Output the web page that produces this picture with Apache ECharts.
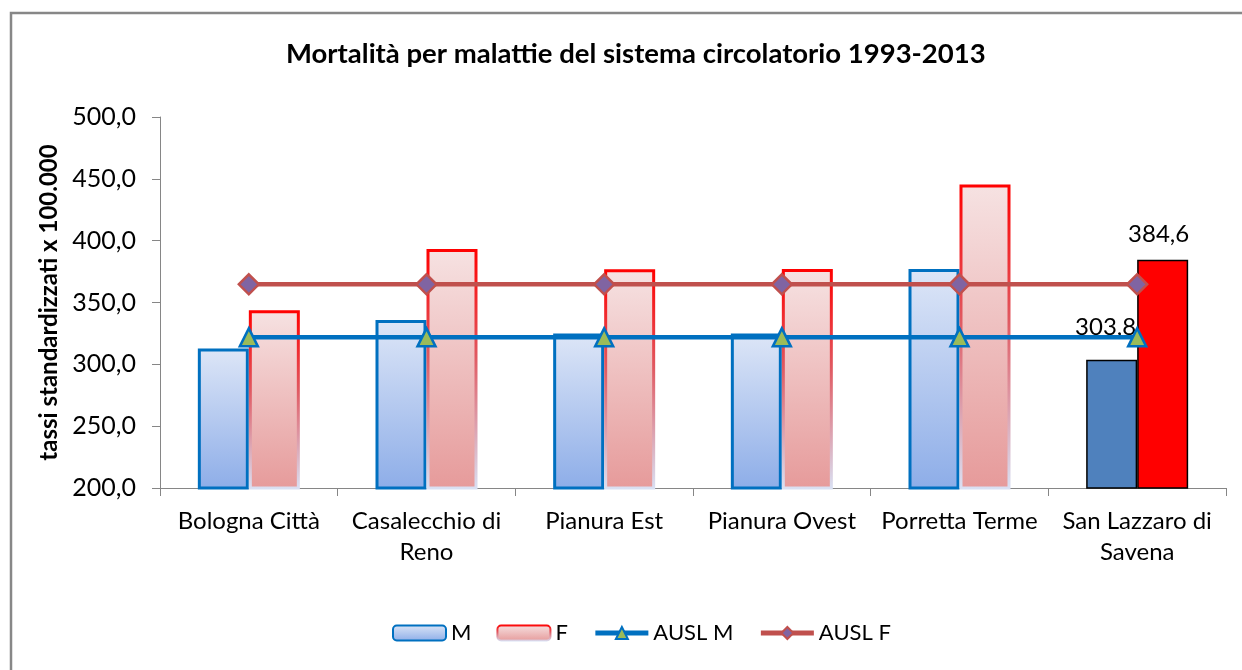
<!DOCTYPE html>
<html>
<head>
<meta charset="utf-8">
<script src="https://cdn.jsdelivr.net/npm/echarts@6/dist/echarts.min.js"></script>
<style>
html,body{margin:0;padding:0;background:#fff;}
#chart{width:1242px;height:670px;}
</style>
</head>
<body>
<div id="chart"></div>
<script>
var categories = ['Bologna Città', 'Casalecchio di\nReno', 'Pianura Est', 'Pianura Ovest', 'Porretta Terme', 'San Lazzaro di\nSavena'];
var valuesM = [312.9, 335.8, 325.0, 325.0, 377.1, 303.8];
var valuesF = [343.7, 393.3, 376.9, 377.1, 445.4, 384.6];
var auslM = [321.8, 321.8, 321.8, 321.8, 321.8, 321.8];
var auslF = [364.7, 364.7, 364.7, 364.7, 364.7, 364.7];
var yTicks = [200, 250, 300, 350, 400, 450, 500];

var FONT = 'Lato, "Open Sans", sans-serif';
var fmt = function (v) { return v.toFixed(1).replace('.', ','); };

var gradM = new echarts.graphic.LinearGradient(0, 0, 0, 1, [
  {offset: 0, color: '#dde6f7'}, {offset: 1, color: '#8dade8'}]);
var gradF = new echarts.graphic.LinearGradient(0, 0, 0, 1, [
  {offset: 0, color: '#f6e2e2'}, {offset: 1, color: '#e69a9a'}]);
var borderF = new echarts.graphic.LinearGradient(0, 0, 0, 1, [
  {offset: 0, color: '#ff0000'}, {offset: 0.45, color: '#e05a62'}, {offset: 1, color: '#d9e1f4'}]);

var mData = valuesM.map(function (v, i) {
  if (i === valuesM.length - 1) {
    return {value: v, itemStyle: {color: '#4f81bd', borderColor: '#000', borderWidth: 1.5},
      label: {show: true, position: 'top', distance: 20, offset: [-6, 0], formatter: function (p) { return fmt(p.value); },
        color: '#000', fontSize: 24, fontFamily: FONT}};
  }
  return v;
});
var fData = valuesF.map(function (v, i) {
  if (i === valuesF.length - 1) {
    return {value: v, itemStyle: {color: '#ff0000', borderColor: '#000', borderWidth: 1.5},
      label: {show: true, position: 'top', distance: 13, offset: [-4, 0], formatter: function (p) { return fmt(p.value); },
        color: '#000', fontSize: 24, fontFamily: FONT}};
  }
  return v;
});

var chart = echarts.init(document.getElementById('chart'));
chart.setOption({
  backgroundColor: '#fff',
  animation: false,
  title: {
    text: 'Mortalità per malattie del sistema circolatorio 1993-2013',
    left: 281, top: 35,
    textStyle: {fontFamily: FONT, fontSize: 27.5, fontWeight: 'bold', color: '#000'}
  },
  graphic: [{
    type: 'rect', shape: {x: 11, y: 13, width: 1300, height: 700},
    style: {fill: 'none', stroke: '#878787', lineWidth: 2.5}, silent: true, z: -1
  }],
  legend: {
    bottom: 21, left: 387, itemWidth: 53, itemHeight: 15, itemGap: 25,
    textStyle: {fontFamily: FONT, fontSize: 22, color: '#000'},
    lineStyle: {width: 5},
    data: ['M', 'F', 'AUSL M', 'AUSL F']
  },
  grid: {left: 160, right: 16, top: 117, bottom: 182},
  xAxis: {
    type: 'category', data: categories,
    axisLine: {lineStyle: {color: '#868686', width: 1}},
    axisTick: {show: true, length: 8, lineStyle: {color: '#868686'}},
    axisLabel: {fontFamily: FONT, fontSize: 24, color: '#000', margin: 18, lineHeight: 31, interval: 0}
  },
  yAxis: {
    type: 'value', min: 200, max: 500, interval: 50,
    name: 'tassi standardizzati x 100.000', nameLocation: 'middle', nameGap: 91,
    nameTextStyle: {fontFamily: FONT, fontSize: 24, fontWeight: 'bold', color: '#000'},
    axisLine: {show: true, lineStyle: {color: '#868686', width: 1}},
    axisTick: {show: true, length: 8, inside: false, lineStyle: {color: '#868686'}},
    splitLine: {show: false},
    axisLabel: {fontFamily: FONT, fontSize: 25, color: '#000', margin: 24, formatter: fmt}
  },
  series: [
    {name: 'M', type: 'bar', data: mData, barWidth: 51, barGap: '0%',
      itemStyle: {color: gradM, borderColor: '#0070c0', borderWidth: 3}},
    {name: 'F', type: 'bar', data: fData, barWidth: 51, barGap: '0%',
      itemStyle: {color: gradF, borderColor: borderF, borderWidth: 3}},
    {name: 'AUSL M', type: 'line', data: auslM, symbol: 'triangle', symbolSize: 18,
      lineStyle: {color: '#0070c0', width: 4.5},
      itemStyle: {color: '#9bbb59', borderColor: '#0070c0', borderWidth: 2.5}, z: 5},
    {name: 'AUSL F', type: 'line', data: auslF, symbol: 'diamond', symbolSize: 20,
      lineStyle: {color: '#c0504d', width: 4.5},
      itemStyle: {color: '#8064a2', borderColor: '#c0504d', borderWidth: 2.5}, z: 5}
  ]
});
</script>
</body>
</html>
